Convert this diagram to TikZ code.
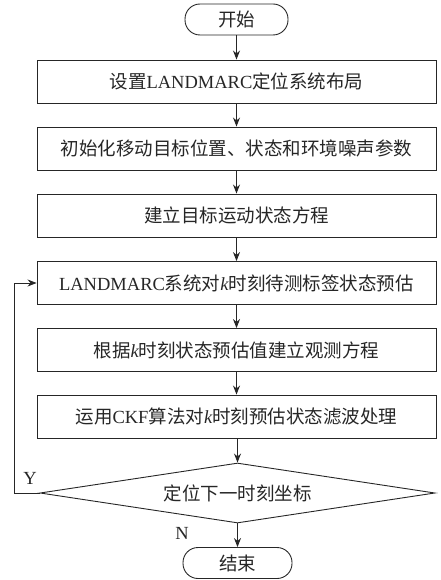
\documentclass[tikz,border=0pt]{standalone}
\usepackage{fontspec}
\setmainfont{Liberation Serif}
\newfontfamily\cjk{Noto Sans CJK SC}
\newcommand\zhs[1]{{\cjk #1}}
\usetikzlibrary{shapes.geometric,arrows.meta}
\begin{document}
\begin{tikzpicture}[x=1pt,y=-1pt,
  every node/.style={font=\fontsize{18.5}{22}\selectfont, text=black!85},
  line/.style={draw=black!85, line width=0.9pt},
  arr/.style={line, -{Stealth[length=9pt,width=7pt]}},
  box/.style={line, rectangle, minimum width=399pt, minimum height=43pt, inner sep=0pt},
  term/.style={line, rectangle, rounded corners=15pt, minimum height=31pt, inner sep=0pt},
  dec/.style={line, diamond, minimum width=395pt, minimum height=60pt, inner sep=0pt, aspect=6.5},
  lab/.style={inner sep=0pt}]
\useasboundingbox (0,0) rectangle (440,580);
\node[term, minimum width=103pt] (start) at (236.5,19.5) {\zhs{开始}};
\node[box] (b1) at (236.5,81.5) {\zhs{设置}LANDMARC\zhs{定位系统布局}};
\node[box] (b2) at (236.5,148.5) {\zhs{初始化移动目标位置、状态和环境噪声参数}};
\node[box] (b3) at (236.5,215.5) {\zhs{建立目标运动状态方程}};
\node[box] (b4) at (236.5,283) {LANDMARC\zhs{系统对}\textit{k}\zhs{时刻待测标签状态预估}};
\node[box] (b5) at (236.5,350) {\zhs{根据}\textit{k}\zhs{时刻状态预估值建立观测方程}};
\node[box] (b6) at (236.5,416.5) {\zhs{运用}CKF\zhs{算法对}\textit{k}\zhs{时刻预估状态滤波处理}};
\node[dec] (d) at (237.5,493) {\zhs{定位下一时刻坐标}};
\node[term, minimum width=109pt] (end) at (237.5,563) {\zhs{结束}};
\coordinate (lc) at (14,493);
\coordinate (tc) at (14,283);
\draw[arr] (start) -- (b1);
\draw[arr] (b1) -- (b2);
\draw[arr] (b2) -- (b3);
\draw[arr] (b3) -- (b4);
\draw[arr] (b4) -- (b5);
\draw[arr] (b5) -- (b6);
\draw[arr] (b6.south -| d.north) -- (d.north);
\draw[arr] (d.south) -- (end);
\draw[arr] (d.west) -- (lc) -- (tc) -- (b4.west);
\node[lab] (y) at (30,478) {Y};
\node[lab] (n) at (182,533) {N};
\end{tikzpicture}
\end{document}
